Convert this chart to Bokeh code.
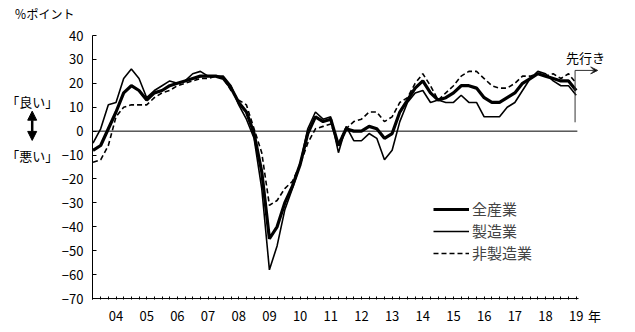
from bokeh.plotting import figure
from bokeh.layouts import column, row
from bokeh.models import (Range1d, FixedTicker, Legend, LegendItem, Label,
                          Arrow, VeeHead, NormalHead)
from bokeh.embed import file_html
from bokeh.resources import INLINE
from bokeh.core.properties import value

FONT = "Noto Sans CJK JP"

# quarterly index: 0 = 2003 Jun survey ... 62 = 2018 Dec, 63 = forecast (先行き)
quarters = list(range(64))
year_labels = ["04", "05", "06", "07", "08", "09", "10", "11",
               "12", "13", "14", "15", "16", "17", "18", "19"]
year_ticks = quarters[3::4]
y_ticks = [-70, -60, -50, -40, -30, -20, -10, 0, 10, 20, 30, 40]

all_ind = [-8, -6, 1, 8, 16, 19, 17, 13, 16, 17, 19, 20, 21, 22, 23, 23,
           23, 22, 18, 12, 8, -1, -17, -45, -40, -30, -23, -14, -1, 6, 4, 5,
           -6, 1, 0, 0, 2, 1, -3, -1, 8, 13, 18, 21, 16, 13, 14, 16,
           19, 19, 18, 14, 12, 12, 14, 16, 20, 22, 24, 23, 22, 21, 21, 17]
manuf = [-5, 1, 11, 12, 22, 26, 22, 14, 17, 19, 21, 20, 21, 24, 25, 23,
         23, 23, 19, 11, 5, -3, -24, -58, -48, -33, -24, -14, 1, 8, 5, 6,
         -9, 2, -4, -4, -1, -3, -12, -8, 4, 12, 16, 17, 12, 13, 12, 12,
         15, 12, 12, 6, 6, 6, 10, 12, 17, 22, 25, 24, 21, 19, 19, 15]
nonmanuf = [-13, -12, -6, 6, 10, 11, 11, 11, 14, 16, 17, 19, 20, 21, 22, 22,
            23, 22, 17, 13, 11, 1, -9, -31, -29, -24, -21, -14, -5, 1, 2, 3,
            -5, 1, 4, 5, 8, 8, 4, 6, 12, 14, 20, 24, 19, 13, 16, 19,
            23, 25, 25, 22, 19, 18, 18, 20, 23, 23, 24, 23, 24, 22, 24, 20]

forecast_x = quarters[-1] - 0.15
axis_end = quarters[-1] + 0.3
unit_tick = 65.4


def bare(fig):
    fig.outline_line_color = None
    fig.background_fill_color = "white"
    fig.border_fill_color = "white"
    return fig


# ---------------- main chart ----------------
p = bare(figure(width=578, height=307, title=None,
                x_range=Range1d(-0.065, 67.47), y_range=Range1d(-70.4, 40),
                output_backend="svg", toolbar_location=None,
                min_border_left=35, min_border_right=25,
                min_border_top=10, min_border_bottom=33))
p.xgrid.grid_line_color = None
p.ygrid.grid_line_color = None

p.yaxis.ticker = FixedTicker(ticks=y_ticks)
p.yaxis.major_tick_in = 4
p.yaxis.major_tick_out = 0
p.yaxis.minor_tick_line_color = None
p.yaxis.axis_line_color = "black"
p.yaxis.major_tick_line_color = "black"
p.yaxis.major_label_standoff = 9
p.yaxis.major_label_text_font = FONT
p.yaxis.major_label_text_font_size = "13px"
p.yaxis.major_label_text_color = "black"

overrides = {t: lab for t, lab in zip(year_ticks, year_labels)}
overrides[unit_tick] = "年"
p.xaxis.ticker = FixedTicker(ticks=year_ticks + [unit_tick], minor_ticks=quarters)
p.xaxis.major_label_overrides = overrides
p.xaxis.axis_line_color = None
p.xaxis.major_tick_in = 0
p.xaxis.major_tick_out = 0
p.xaxis.minor_tick_in = 3
p.xaxis.minor_tick_out = 0
p.xaxis.minor_tick_line_color = "black"
p.xaxis.major_label_standoff = 6
p.xaxis.major_label_text_font = FONT
p.xaxis.major_label_text_font_size = "13px"
p.xaxis.major_label_text_color = "black"

p.segment(x0=[quarters[0]], y0=[y_ticks[0]], x1=[axis_end], y1=[y_ticks[0]],
          line_color="black", line_width=1)
p.segment(x0=[quarters[0]], y0=[0], x1=[quarters[-1] + 0.15], y1=[0],
          line_color="black", line_width=1)

r_non = p.line(quarters, nonmanuf, line_color="black", line_width=1.6,
               line_dash="5 3")
r_man = p.line(quarters, manuf, line_color="black", line_width=1.6)
r_all = p.line(quarters, all_ind, line_color="black", line_width=3.2)

legend = Legend(items=[LegendItem(label="全産業", renderers=[r_all]),
                       LegendItem(label="製造業", renderers=[r_man]),
                       LegendItem(label="非製造業", renderers=[r_non])],
                location=(341, 36), padding=0, spacing=1, margin=0,
                glyph_width=36, glyph_height=20, label_height=20,
                label_standoff=3, label_text_font=FONT,
                label_text_font_size="15px", border_line_color=None,
                background_fill_alpha=0)
p.add_layout(legend)

p.segment(x0=[forecast_x], y0=[3.7], x1=[forecast_x], y1=[25.4],
          line_color="#333333", line_width=1)
p.add_layout(Arrow(end=VeeHead(size=7, line_color="#333333", line_width=1),
                   x_start=forecast_x, y_start=25.4, x_end=65.8, y_end=25.4,
                   line_color="#333333", line_width=1))
p.add_layout(Label(x=64.2, y=30.6, text="先行き", text_align="center",
                   text_baseline="middle", text_font=FONT,
                   text_font_size="13px", text_color="black"))

# ---------------- left annotation strip ----------------
left = bare(figure(width=57, height=307, title=None,
                   x_range=Range1d(0, 57), y_range=Range1d(307, 0),
                   output_backend="svg", toolbar_location=None,
                   x_axis_location=None, y_axis_location=None,
                   min_border=0))
left.grid.visible = False
left.text(x=[31.7, 31.7], y=[77, 139.5], text=["「良い」", "「悪い」"],
          text_font=value(FONT), text_font_size="13px", text_color="black",
          text_align="center", text_baseline="middle")
left.add_layout(Arrow(start=NormalHead(size=9, fill_color="black", line_color="black"),
                      end=NormalHead(size=9, fill_color="black", line_color="black"),
                      x_start=31.7, y_start=88, x_end=31.7, y_end=122,
                      line_color="black", line_width=2.5))

# ---------------- top unit strip ----------------
top = bare(figure(width=635, height=25, title=None,
                  x_range=Range1d(0, 635), y_range=Range1d(25, 0),
                  output_backend="svg", toolbar_location=None,
                  x_axis_location=None, y_axis_location=None,
                  min_border=0))
top.grid.visible = False
top.text(x=[44], y=[13], text=["％ポイント"], text_font=value(FONT),
         text_font_size="12px", text_color="black",
         text_align="center", text_baseline="middle")

layout = column(top, row(left, p, spacing=0), spacing=0)
open("out.html", "w").write(file_html(layout, INLINE))
